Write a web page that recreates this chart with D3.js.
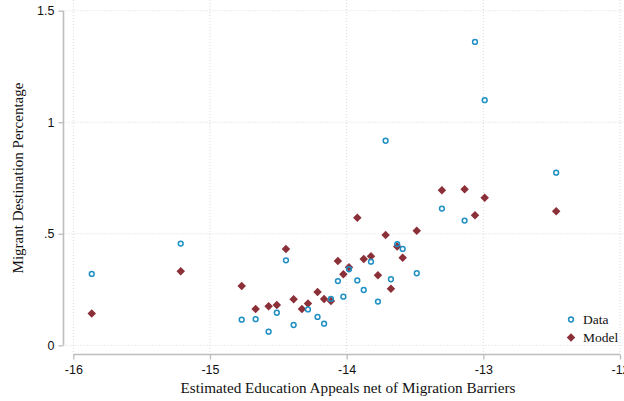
<!DOCTYPE html>
<html>
<head>
<meta charset="utf-8">
<script src="https://cdn.jsdelivr.net/npm/d3@7"></script>
<style>
  html, body { margin: 0; padding: 0; background: #fff; }
  svg { display: block; }
</style>
</head>
<body>
<svg id="chart" width="624" height="401"></svg>
<script>
// Education appeal (x) shared by observed and model destination shares
const appeal = [-15.865, -15.214, -14.768, -14.666, -14.571, -14.511, -14.444, -14.388,
  -14.327, -14.283, -14.213, -14.165, -14.115, -14.064, -14.024, -13.983, -13.922,
  -13.875, -13.822, -13.771, -13.715, -13.676, -13.630, -13.590, -13.487, -13.303,
  -13.137, -13.061, -12.990, -12.467];
// Observed migrant destination percentage (null where not observed)
const dataShare = [0.320, 0.456, 0.115, 0.117, 0.061, 0.146, 0.381, 0.091,
  null, 0.161, 0.127, 0.097, 0.208, 0.288, 0.218, 0.341, 0.291,
  0.248, 0.375, 0.196, 0.917, 0.296, 0.454, 0.432, 0.323, 0.613,
  0.559, 1.360, 1.099, 0.774];
// Model-predicted destination percentage
const modelShare = [0.143, 0.332, 0.266, 0.163, 0.175, 0.181, 0.432, 0.206,
  0.163, 0.187, 0.239, 0.208, 0.199, 0.378, 0.318, 0.350, 0.572,
  0.387, 0.399, 0.314, 0.495, 0.254, 0.443, 0.393, 0.513, 0.695,
  0.700, 0.583, 0.662, 0.601];
const xTicks = [-16, -15, -14, -13, -12];
const yTicks = [0, 0.5, 1, 1.5];
const yTickLabels = ["0", ".5", "1", "1.5"];
const seriesNames = ["Data", "Model"];

const svg = d3.select("#chart");
const W = 624, H = 401;
const axisX = 63.5, axisY = 354.5;

const x = d3.scaleLinear().domain([-16, -12]).range([73.3, 620]);
const y = d3.scaleLinear().domain([0, 1.5]).range([345.3, 10.7]);

const blue = "#1f8fc4";
const red = "#8b2f38";
const gridCol = "#d9d9d9";
const axisCol = "#bdbdbd";

// grid
const grid = svg.append("g");
grid.selectAll("line.h").data(yTicks).join("line")
  .attr("x1", axisX + 2).attr("x2", W)
  .attr("y1", d => y(d)).attr("y2", d => y(d))
  .attr("stroke", gridCol).attr("stroke-width", 1).attr("stroke-dasharray", "1,2");
grid.selectAll("line.v").data(xTicks).join("line")
  .attr("x1", d => x(d)).attr("x2", d => x(d))
  .attr("y1", 0).attr("y2", axisY - 2)
  .attr("stroke", gridCol).attr("stroke-width", 1).attr("stroke-dasharray", "1,2");

// axes
const xAxis = d3.axisBottom(x).tickValues(xTicks).tickSize(5).tickPadding(6)
  .tickFormat(d => d3.format("d")(d).replace("−", "-"));
const gx = svg.append("g").attr("transform", `translate(0,${axisY})`).call(xAxis);
gx.select(".domain").attr("d", `M${x(-16)},0H${x(-12)}`);

const yAxis = d3.axisLeft(y).tickValues(yTicks).tickSize(5).tickPadding(4)
  .tickFormat((d, i) => yTickLabels[i]);
const gy = svg.append("g").attr("transform", `translate(${axisX},0)`).call(yAxis);
gy.select(".domain").attr("d", `M0,${y(0)}V${y(1.5)}`);

[gx, gy].forEach(g => {
  g.select(".domain").attr("stroke", axisCol).attr("stroke-width", 1.6);
  g.selectAll(".tick line").attr("stroke", axisCol).attr("stroke-width", 1.3);
  g.selectAll(".tick text").attr("fill", "#111")
    .style("font-family", "'Liberation Sans', Arial, sans-serif").style("font-size", "12.5px");
});

// axis titles
svg.append("text").attr("x", 348).attr("y", 393).attr("text-anchor", "middle")
  .style("font-family", "'Liberation Serif', 'Times New Roman', serif").style("font-size", "15.2px")
  .attr("fill", "#111").text("Estimated Education Appeals net of Migration Barriers");
svg.append("text").attr("transform", "translate(23,178) rotate(-90)").attr("text-anchor", "middle")
  .style("font-family", "'Liberation Serif', 'Times New Roman', serif").style("font-size", "15px")
  .attr("fill", "#111").text("Migrant Destination Percentage");

// markers
const diamond = d3.symbol().type(d3.symbolDiamond2).size(46);
const modelPts = appeal.map((a, i) => ({ x: a, y: modelShare[i] }));
const dataPts = appeal.map((a, i) => ({ x: a, y: dataShare[i] })).filter(d => d.y != null);

svg.append("g").selectAll("path").data(modelPts).join("path")
  .attr("d", diamond)
  .attr("transform", d => `translate(${x(d.x)},${y(d.y)})`)
  .attr("fill", red);

svg.append("g").selectAll("circle").data(dataPts).join("circle")
  .attr("cx", d => x(d.x)).attr("cy", d => y(d.y)).attr("r", 2.4)
  .attr("fill", "none").attr("stroke", blue).attr("stroke-width", 1.5);

// legend
const lg = svg.append("g");
lg.append("circle").attr("cx", 571).attr("cy", 319.5).attr("r", 2.4)
  .attr("fill", "none").attr("stroke", blue).attr("stroke-width", 1.5);
lg.append("path").attr("d", diamond).attr("transform", "translate(571,337.5)").attr("fill", red);
lg.selectAll("text").data(seriesNames).join("text")
  .attr("x", 583).attr("y", (d, i) => 324 + i * 18)
  .style("font-family", "'Liberation Serif', 'Times New Roman', serif").style("font-size", "13.5px")
  .attr("fill", "#111").text(d => d);
</script>
</body>
</html>
